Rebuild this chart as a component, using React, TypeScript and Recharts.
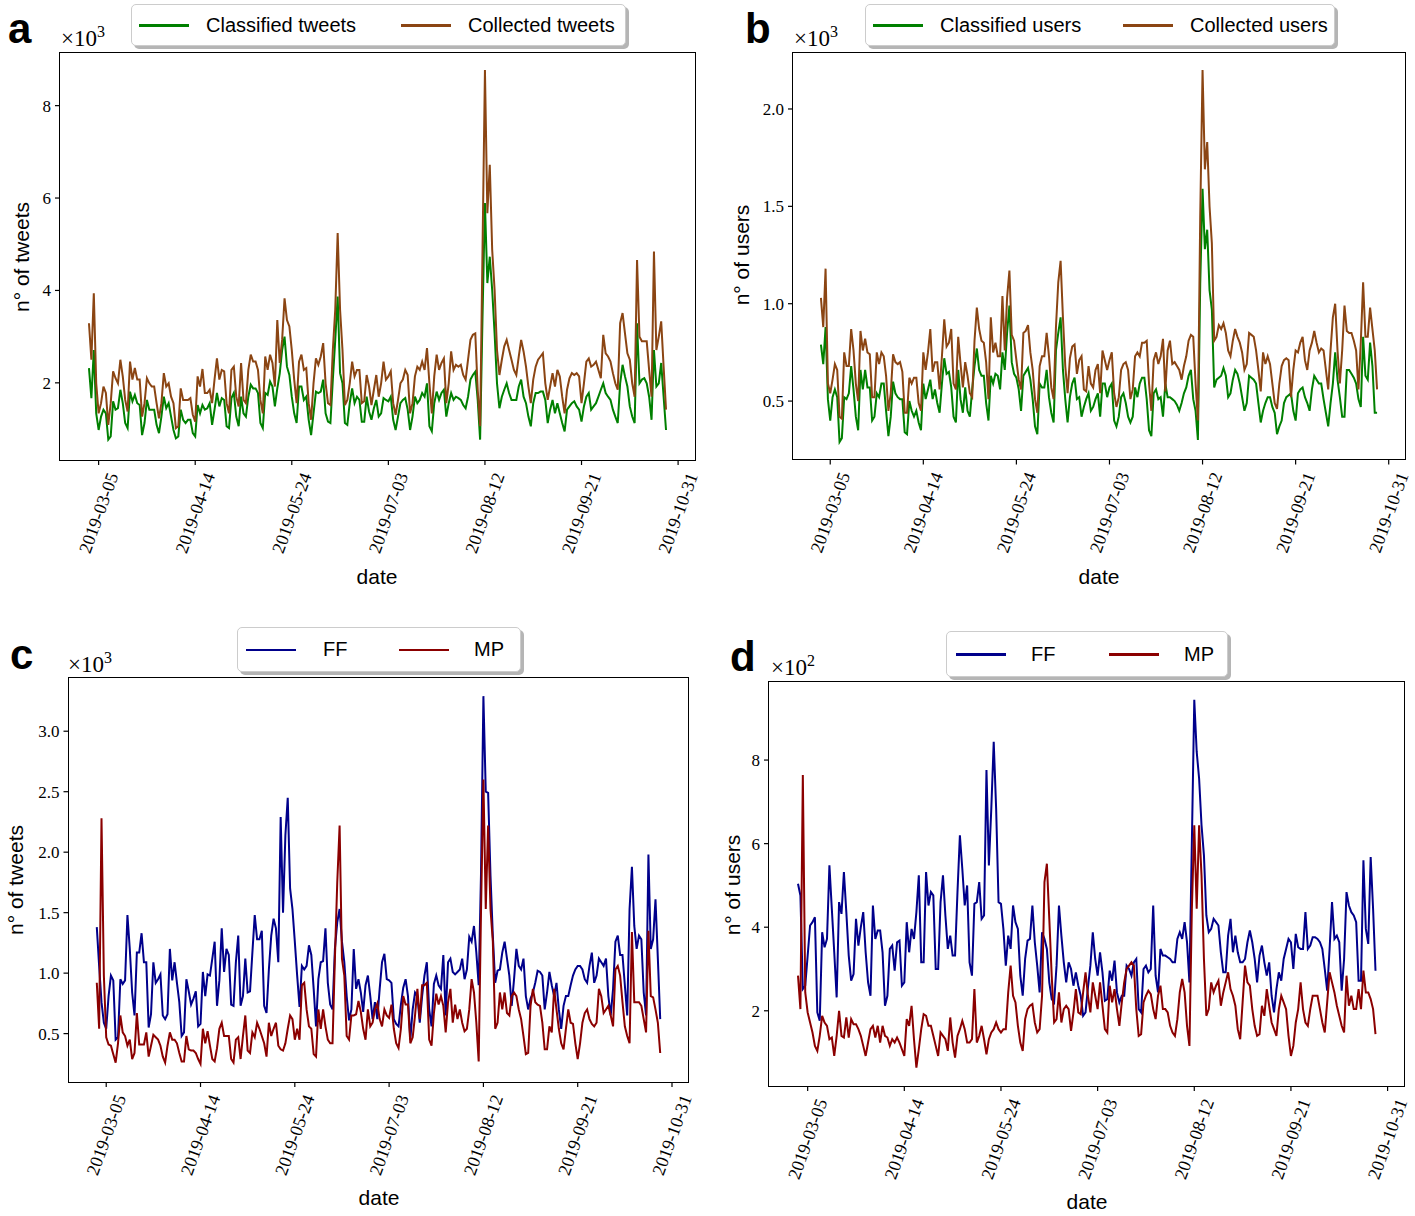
import React from "react";
import { LineChart, Line, XAxis, YAxis } from "recharts";

// daily counts, 2019-03-01 .. 2019-10-26 (index 0 = 2019-03-01)
const dateTicks = [4, 44, 84, 124, 164, 204, 244];
const dateLabels = ["2019-03-05", "2019-04-14", "2019-05-24", "2019-07-03", "2019-08-12", "2019-09-21", "2019-10-31"];

// panel a, x10^3
const classifiedTweets = [
  2.32, 1.67, 2.71, 1.34, 0.98, 1.27, 1.42, 1.34, 0.77, 0.84,
  1.60, 1.42, 1.45, 1.85, 1.56, 1.13, 1.02, 1.81, 1.60, 1.74,
  1.56, 1.52, 0.87, 1.13, 1.63, 1.42, 1.42, 1.42, 1.09, 0.91,
  1.27, 1.70, 1.45, 1.56, 1.27, 0.98, 0.80, 0.84, 1.42, 1.20,
  1.13, 1.20, 1.20, 0.91, 0.84, 1.52, 1.34, 1.52, 1.42, 1.45,
  1.56, 1.09, 1.42, 1.78, 1.49, 1.67, 1.63, 1.06, 1.02, 1.67,
  1.78, 1.27, 1.06, 1.70, 1.34, 1.27, 1.70, 1.96, 1.88, 1.88,
  1.78, 1.13, 1.02, 1.78, 1.74, 2.03, 1.92, 1.49, 1.88, 2.20,
  2.71, 3.00, 2.35, 2.17, 1.70, 1.34, 1.13, 1.92, 1.92, 1.63,
  1.70, 1.20, 0.87, 1.34, 1.81, 1.78, 1.81, 2.07, 1.34, 1.16,
  1.13, 2.07, 2.93, 3.87, 2.21, 1.99, 1.13, 1.09, 1.56, 1.88,
  1.56, 1.70, 1.63, 1.16, 1.16, 1.70, 1.38, 1.20, 1.45, 1.63,
  1.27, 1.34, 1.67, 1.63, 1.60, 1.70, 1.20, 0.98, 1.27, 1.56,
  1.63, 1.67, 1.42, 0.98, 1.27, 1.70, 1.56, 1.63, 1.78, 1.70,
  1.99, 1.06, 0.95, 1.56, 1.81, 1.63, 1.78, 1.85, 1.27, 1.56,
  1.78, 1.63, 1.70, 1.67, 1.63, 1.52, 1.45, 1.70, 2.07, 2.17,
  2.24, 1.63, 0.77, 3.44, 5.89, 4.16, 4.73, 4.01, 3.07, 1.99,
  1.45, 1.70, 1.85, 1.99, 1.78, 1.63, 1.63, 1.63, 1.92, 2.07,
  1.70, 1.56, 1.27, 1.06, 1.56, 1.78, 1.78, 1.81, 1.81, 1.63,
  1.13, 1.42, 1.63, 1.34, 1.56, 1.34, 1.13, 0.95, 1.42, 1.49,
  1.56, 1.60, 1.49, 1.42, 1.16, 1.49, 1.70, 1.78, 1.42, 1.49,
  1.56, 1.70, 1.85, 1.99, 1.78, 1.70, 1.63, 1.42, 1.27, 1.13,
  1.99, 2.39, 2.14, 1.92, 1.49, 1.27, 1.13, 3.29, 1.99, 2.07,
  2.10, 1.99, 1.70, 1.20, 2.71, 1.92, 1.99, 2.43, 1.70, 0.98,
];
const collectedTweets = [
  3.29, 2.50, 3.94, 1.99, 1.34, 1.56, 1.92, 1.78, 1.09, 1.56,
  2.25, 2.10, 1.99, 2.50, 2.14, 1.63, 1.38, 2.46, 2.07, 2.32,
  2.07, 2.07, 1.27, 1.56, 2.10, 1.99, 1.92, 1.92, 1.56, 1.23,
  1.56, 2.21, 1.92, 1.99, 1.70, 1.56, 1.02, 1.06, 1.88, 1.63,
  1.63, 1.63, 1.67, 1.31, 1.16, 2.14, 1.92, 2.30, 1.78, 1.78,
  1.85, 1.56, 2.07, 2.53, 2.07, 2.28, 2.25, 1.56, 1.34, 2.28,
  2.35, 1.70, 1.49, 2.43, 1.63, 1.56, 2.28, 2.61, 2.46, 2.46,
  2.28, 1.63, 1.34, 2.57, 2.28, 2.61, 2.43, 1.92, 3.36, 2.43,
  2.93, 3.83, 3.36, 3.22, 2.71, 2.07, 1.56, 2.46, 2.61, 2.28,
  2.32, 1.56, 1.20, 1.99, 2.53, 2.39, 2.57, 2.86, 1.99, 1.56,
  1.52, 2.71, 3.58, 5.24, 3.58, 2.71, 1.52, 1.63, 1.99, 2.46,
  2.14, 2.28, 2.28, 1.56, 1.60, 2.17, 1.92, 1.52, 1.85, 2.17,
  1.70, 1.99, 2.46, 2.07, 2.14, 2.25, 1.56, 1.31, 1.63, 1.99,
  2.07, 2.28, 2.17, 1.34, 1.56, 2.14, 2.35, 2.28, 2.46, 2.28,
  2.75, 1.99, 1.34, 2.14, 2.61, 2.28, 2.43, 2.53, 1.56, 1.99,
  2.68, 2.28, 2.39, 2.35, 2.39, 2.17, 2.07, 2.50, 2.93, 3.04,
  3.07, 1.85, 1.06, 4.90, 8.77, 5.67, 6.72, 4.88, 4.01, 2.71,
  2.17, 2.50, 2.79, 2.93, 2.71, 2.50, 2.28, 2.17, 2.57, 2.93,
  2.68, 2.35, 1.92, 1.56, 2.07, 2.35, 2.50, 2.57, 2.64, 1.99,
  1.63, 1.92, 2.21, 1.92, 2.28, 2.14, 1.70, 1.34, 1.85, 2.10,
  2.21, 2.17, 2.21, 2.14, 1.56, 1.99, 2.46, 2.53, 2.35, 2.39,
  2.46, 2.28, 2.10, 3.04, 2.64, 2.57, 2.46, 2.21, 1.99, 1.85,
  3.29, 3.51, 3.07, 2.64, 2.50, 1.99, 1.70, 4.66, 3.00, 2.90,
  2.90, 2.90, 2.28, 1.70, 4.84, 2.71, 3.00, 3.33, 2.35, 1.42,
];

// panel b, x10^3
const classifiedUsers = [
  0.79, 0.69, 0.88, 0.51, 0.40, 0.52, 0.56, 0.52, 0.29, 0.31,
  0.52, 0.51, 0.54, 0.68, 0.56, 0.42, 0.35, 0.66, 0.56, 0.66,
  0.57, 0.57, 0.40, 0.42, 0.54, 0.52, 0.59, 0.59, 0.45, 0.32,
  0.42, 0.60, 0.54, 0.52, 0.51, 0.51, 0.34, 0.33, 0.50, 0.45,
  0.42, 0.45, 0.39, 0.35, 0.59, 0.51, 0.56, 0.61, 0.51, 0.56,
  0.49, 0.44, 0.59, 0.72, 0.64, 0.65, 0.57, 0.42, 0.39, 0.66,
  0.51, 0.44, 0.57, 0.45, 0.42, 0.56, 0.68, 0.77, 0.66, 0.63,
  0.63, 0.49, 0.40, 0.63, 0.59, 0.64, 0.63, 0.56, 0.75, 0.66,
  0.85, 0.99, 0.70, 0.64, 0.62, 0.56, 0.45, 0.63, 0.65, 0.67,
  0.61, 0.51, 0.37, 0.33, 0.59, 0.57, 0.57, 0.66, 0.52, 0.44,
  0.39, 0.76, 0.85, 0.93, 0.66, 0.51, 0.39, 0.52, 0.59, 0.62,
  0.51, 0.52, 0.42, 0.47, 0.51, 0.54, 0.45, 0.47, 0.51, 0.54,
  0.42, 0.59, 0.59, 0.52, 0.57, 0.59, 0.40, 0.37, 0.42, 0.52,
  0.54, 0.49, 0.42, 0.39, 0.42, 0.57, 0.52, 0.59, 0.62, 0.62,
  0.51, 0.35, 0.32, 0.54, 0.56, 0.51, 0.52, 0.42, 0.59, 0.52,
  0.52, 0.51, 0.50, 0.48, 0.45, 0.49, 0.54, 0.57, 0.63, 0.66,
  0.51, 0.45, 0.30, 1.10, 1.59, 1.28, 1.38, 1.07, 0.97, 0.57,
  0.61, 0.62, 0.63, 0.67, 0.63, 0.52, 0.54, 0.61, 0.66, 0.64,
  0.59, 0.52, 0.45, 0.49, 0.63, 0.62, 0.61, 0.59, 0.49, 0.39,
  0.45, 0.49, 0.52, 0.52, 0.47, 0.44, 0.33, 0.37, 0.40, 0.49,
  0.52, 0.53, 0.54, 0.45, 0.40, 0.54, 0.56, 0.57, 0.52, 0.49,
  0.45, 0.56, 0.63, 0.61, 0.59, 0.59, 0.51, 0.44, 0.37, 0.49,
  0.59, 0.75, 0.61, 0.52, 0.42, 0.42, 0.66, 0.66, 0.64, 0.62,
  0.59, 0.51, 0.47, 0.83, 0.63, 0.61, 0.80, 0.68, 0.44, 0.44,
];
const collectedUsers = [
  1.03, 0.88, 1.18, 0.59, 0.54, 0.61, 0.69, 0.66, 0.42, 0.41,
  0.75, 0.68, 0.68, 0.87, 0.76, 0.59, 0.50, 0.86, 0.76, 0.82,
  0.75, 0.74, 0.52, 0.52, 0.75, 0.69, 0.75, 0.73, 0.63, 0.45,
  0.54, 0.74, 0.70, 0.69, 0.70, 0.65, 0.44, 0.44, 0.62, 0.59,
  0.62, 0.62, 0.49, 0.45, 0.75, 0.66, 0.75, 0.87, 0.65, 0.70,
  0.70, 0.56, 0.73, 0.92, 0.78, 0.80, 0.87, 0.59, 0.56, 0.83,
  0.69, 0.57, 0.70, 0.63, 0.54, 0.52, 0.81, 0.98, 0.87, 0.81,
  0.80, 0.70, 0.51, 0.93, 0.75, 0.80, 0.73, 0.73, 1.04, 0.76,
  1.03, 1.17, 0.84, 0.81, 0.71, 0.61, 0.56, 0.85, 0.86, 0.89,
  0.75, 0.66, 0.51, 0.44, 0.68, 0.73, 0.73, 0.85, 0.73, 0.57,
  0.51, 0.88, 1.11, 1.22, 0.93, 0.68, 0.54, 0.72, 0.78, 0.79,
  0.64, 0.71, 0.73, 0.56, 0.55, 0.68, 0.59, 0.57, 0.66, 0.69,
  0.54, 0.76, 0.71, 0.66, 0.71, 0.75, 0.54, 0.47, 0.52, 0.66,
  0.69, 0.70, 0.66, 0.51, 0.56, 0.73, 0.75, 0.73, 0.80, 0.80,
  0.81, 0.59, 0.45, 0.71, 0.75, 0.69, 0.73, 0.82, 0.55, 0.76,
  0.81, 0.69, 0.70, 0.68, 0.66, 0.61, 0.68, 0.73, 0.81, 0.84,
  0.83, 0.59, 0.40, 1.45, 2.20, 1.69, 1.83, 1.50, 1.31, 0.81,
  0.83, 0.89, 0.87, 0.90, 0.85, 0.76, 0.73, 0.81, 0.87, 0.83,
  0.80, 0.75, 0.66, 0.69, 0.85, 0.84, 0.83, 0.76, 0.66, 0.55,
  0.75, 0.69, 0.73, 0.69, 0.59, 0.49, 0.46, 0.59, 0.68, 0.71,
  0.72, 0.71, 0.52, 0.66, 0.76, 0.75, 0.80, 0.83, 0.71, 0.66,
  0.76, 0.80, 0.86, 0.80, 0.75, 0.77, 0.76, 0.66, 0.56, 0.76,
  0.93, 1.00, 0.76, 0.59, 0.76, 0.99, 0.86, 0.85, 0.85, 0.81,
  0.76, 0.56, 0.80, 1.11, 0.83, 0.83, 0.98, 0.87, 0.76, 0.56,
];

// panel c, x10^3
const ffTweets = [
  1.38, 1.06, 0.76, 0.59, 0.54, 0.81, 0.98, 0.94, 0.45, 0.47,
  0.95, 0.91, 0.94, 1.48, 1.20, 0.84, 0.65, 1.17, 1.17, 1.33,
  1.09, 1.09, 0.55, 0.66, 1.09, 0.92, 0.95, 0.99, 0.65, 0.62,
  0.66, 1.20, 0.94, 1.09, 0.92, 0.76, 0.48, 0.51, 0.95, 0.85,
  0.74, 0.79, 0.85, 0.56, 0.58, 1.01, 0.81, 0.99, 0.98, 1.12,
  1.26, 0.73, 0.94, 1.37, 1.01, 1.20, 1.15, 0.74, 0.73, 1.09,
  1.31, 0.73, 0.81, 1.12, 0.84, 0.85, 1.17, 1.48, 1.28, 1.28,
  1.35, 0.73, 0.67, 1.03, 1.31, 1.45, 1.37, 1.09, 2.29, 1.50,
  2.14, 2.45, 1.70, 1.53, 1.26, 0.98, 0.72, 1.06, 1.03, 1.06,
  1.23, 1.15, 0.87, 0.56, 0.95, 1.09, 1.10, 1.37, 0.92, 0.74,
  0.70, 1.20, 1.42, 1.53, 1.26, 1.09, 0.81, 0.61, 0.70, 1.20,
  0.87, 0.95, 0.84, 0.68, 0.90, 0.98, 0.81, 0.62, 0.76, 0.62,
  0.87, 1.09, 1.16, 0.95, 0.94, 0.92, 0.62, 0.58, 0.56, 0.74,
  0.88, 0.95, 0.81, 0.45, 0.70, 0.84, 0.81, 0.59, 0.81, 0.98,
  1.09, 0.70, 0.56, 0.91, 0.98, 0.90, 0.87, 1.15, 0.65, 1.09,
  1.12, 1.01, 0.99, 1.01, 1.03, 1.12, 0.95, 1.03, 1.30, 1.26,
  1.39, 1.17, 0.90, 1.84, 3.29, 2.50, 2.49, 1.81, 1.31, 0.92,
  1.02, 1.03, 1.17, 1.26, 1.12, 0.98, 0.73, 0.95, 1.20, 1.06,
  1.03, 1.12, 0.81, 0.70, 0.79, 0.84, 0.92, 1.02, 1.01, 0.98,
  0.70, 0.84, 1.01, 0.90, 0.81, 0.92, 0.70, 0.54, 0.73, 0.81,
  0.81, 0.90, 0.98, 1.03, 1.06, 1.06, 1.03, 0.95, 0.92, 1.06,
  1.17, 0.92, 0.98, 1.12, 1.09, 1.06, 1.12, 0.81, 0.65, 0.87,
  1.26, 1.31, 1.15, 1.15, 0.90, 0.65, 1.53, 1.88, 1.39, 1.20,
  1.31, 1.28, 0.84, 0.65, 1.98, 1.20, 1.28, 1.61, 1.12, 0.62,
];
const mpTweets = [
  0.92, 0.54, 2.28, 0.98, 0.47, 0.41, 0.40, 0.33, 0.26, 0.42,
  0.65, 0.51, 0.48, 0.40, 0.45, 0.29, 0.34, 0.67, 0.41, 0.41,
  0.41, 0.51, 0.31, 0.40, 0.49, 0.47, 0.45, 0.40, 0.31, 0.26,
  0.40, 0.51, 0.45, 0.45, 0.42, 0.34, 0.27, 0.27, 0.48, 0.37,
  0.36, 0.36, 0.34, 0.29, 0.25, 0.54, 0.42, 0.52, 0.40, 0.29,
  0.27, 0.38, 0.54, 0.59, 0.48, 0.48, 0.48, 0.29, 0.26, 0.45,
  0.47, 0.29, 0.48, 0.65, 0.36, 0.34, 0.51, 0.47, 0.59, 0.54,
  0.48, 0.42, 0.31, 0.59, 0.48, 0.54, 0.59, 0.40, 0.37, 0.36,
  0.42, 0.54, 0.65, 0.62, 0.45, 0.54, 0.45, 0.90, 0.92, 0.70,
  0.56, 0.54, 0.33, 0.31, 0.70, 0.54, 0.70, 0.56, 0.45, 0.42,
  0.42, 1.12, 1.75, 2.22, 1.12, 0.98, 0.48, 0.45, 0.65, 0.65,
  0.66, 0.77, 0.68, 0.54, 0.45, 0.70, 0.56, 0.59, 0.70, 0.75,
  0.62, 0.56, 0.70, 0.65, 0.63, 0.74, 0.54, 0.42, 0.38, 0.54,
  0.81, 0.74, 0.74, 0.42, 0.47, 0.65, 0.87, 0.62, 0.90, 0.90,
  0.92, 0.45, 0.40, 0.67, 0.83, 0.74, 0.81, 0.73, 0.51, 0.76,
  0.87, 0.59, 0.74, 0.62, 0.70, 0.59, 0.52, 0.54, 0.70, 0.95,
  0.84, 0.59, 0.27, 1.53, 2.60, 1.53, 2.22, 1.53, 1.26, 0.54,
  0.59, 0.84, 0.70, 0.84, 0.67, 0.65, 0.81, 0.84, 0.81, 0.70,
  0.62, 0.48, 0.33, 0.34, 0.73, 0.87, 0.76, 0.74, 0.73, 0.59,
  0.37, 0.37, 0.56, 0.51, 0.87, 0.70, 0.54, 0.42, 0.37, 0.54,
  0.70, 0.59, 0.58, 0.42, 0.29, 0.42, 0.59, 0.67, 0.70, 0.62,
  0.58, 0.56, 0.59, 0.87, 0.81, 0.67, 0.70, 0.73, 0.65, 0.56,
  1.03, 1.06, 0.98, 0.76, 0.56, 0.48, 0.42, 1.34, 0.76, 0.76,
  0.76, 0.73, 0.62, 0.51, 1.35, 0.81, 0.80, 0.70, 0.59, 0.34,
];

// panel d, x10^2
const ffUsers = [
  5.04, 4.76, 2.52, 2.60, 3.32, 4.04, 4.12, 4.24, 1.96, 1.76,
  3.88, 3.52, 3.72, 5.48, 4.44, 3.40, 2.32, 4.60, 4.32, 5.32,
  4.36, 3.32, 2.72, 2.88, 4.20, 3.56, 4.00, 4.36, 3.40, 2.68,
  2.36, 4.52, 3.72, 3.92, 3.92, 3.40, 2.12, 2.36, 3.48, 3.56,
  2.96, 3.64, 3.68, 2.60, 2.68, 4.12, 3.40, 3.96, 3.72, 4.36,
  5.24, 3.16, 3.16, 5.32, 4.52, 4.84, 4.76, 3.00, 3.00, 4.60,
  5.24, 4.28, 3.48, 3.80, 3.32, 3.32, 4.84, 6.20, 5.40, 4.52,
  5.00, 3.16, 2.84, 4.56, 4.60, 5.08, 4.20, 4.28, 7.76, 5.48,
  6.84, 8.44, 6.84, 4.60, 4.56, 3.96, 3.08, 3.80, 3.48, 4.52,
  4.12, 3.96, 2.84, 2.36, 3.24, 3.68, 3.72, 4.52, 3.64, 3.08,
  2.44, 3.88, 3.72, 3.48, 2.68, 2.28, 2.20, 3.08, 4.52, 3.80,
  3.16, 2.68, 3.16, 3.00, 2.60, 2.92, 2.60, 2.36, 1.88, 1.96,
  2.56, 3.08, 3.88, 3.24, 2.84, 3.40, 2.92, 2.24, 2.28, 2.96,
  2.72, 3.20, 2.44, 2.20, 2.36, 2.36, 3.08, 3.00, 2.84, 3.16,
  3.24, 2.04, 1.96, 3.00, 3.08, 2.92, 3.00, 4.52, 2.84, 2.44,
  3.48, 3.32, 3.32, 3.28, 3.24, 3.16, 3.16, 3.72, 3.88, 3.72,
  4.12, 3.64, 2.68, 6.04, 9.44, 8.20, 7.56, 6.44, 5.72, 4.28,
  3.88, 3.96, 4.20, 4.12, 4.04, 3.40, 2.92, 2.92, 3.80, 4.20,
  3.40, 3.80, 3.40, 3.16, 3.16, 3.24, 3.64, 3.92, 3.64, 3.24,
  2.68, 3.32, 3.56, 3.16, 2.84, 3.16, 2.36, 1.96, 2.52, 2.92,
  2.72, 3.24, 3.48, 3.72, 3.64, 3.00, 3.84, 3.52, 3.48, 3.48,
  4.36, 3.48, 3.56, 3.76, 3.76, 3.72, 3.64, 3.48, 3.00, 2.48,
  3.48, 4.60, 3.72, 3.80, 3.64, 2.48, 3.24, 4.84, 4.52, 4.36,
  4.28, 4.12, 2.72, 2.72, 5.60, 3.96, 3.60, 5.68, 4.44, 2.96,
];
const mpUsers = [
  2.84, 2.04, 7.64, 2.44, 1.96, 1.72, 1.48, 1.16, 1.04, 1.40,
  1.88, 1.72, 1.64, 1.32, 1.36, 0.92, 1.40, 2.00, 1.40, 1.36,
  1.84, 1.36, 1.80, 1.68, 1.68, 1.56, 1.40, 1.16, 0.92, 1.24,
  1.56, 1.64, 1.36, 1.64, 1.24, 1.64, 1.40, 1.36, 1.16, 1.32,
  1.24, 1.36, 1.24, 1.08, 0.92, 1.80, 1.64, 2.12, 1.32, 0.64,
  1.08, 1.56, 1.92, 1.88, 1.64, 1.64, 1.40, 1.16, 0.92, 1.48,
  1.40, 1.32, 1.04, 1.84, 1.24, 0.88, 1.40, 1.56, 1.76, 1.56,
  1.24, 1.24, 1.32, 2.52, 1.24, 1.40, 1.64, 1.32, 0.96, 1.32,
  1.48, 1.56, 1.72, 1.56, 1.48, 1.56, 1.56, 2.44, 3.08, 2.36,
  2.20, 1.64, 1.24, 1.04, 1.80, 2.04, 2.12, 2.16, 1.72, 1.48,
  1.56, 2.36, 5.08, 5.52, 4.20, 2.84, 1.72, 1.80, 2.44, 1.72,
  2.04, 2.12, 2.04, 1.52, 1.96, 2.52, 1.96, 1.92, 2.44, 2.92,
  2.36, 1.96, 2.68, 2.36, 2.04, 2.68, 2.12, 1.56, 1.48, 2.60,
  2.20, 2.52, 2.04, 1.64, 2.20, 2.68, 3.00, 3.08, 3.16, 3.08,
  2.04, 1.40, 1.44, 2.20, 2.36, 2.48, 2.40, 2.04, 1.80, 2.36,
  2.60, 2.04, 2.04, 1.96, 1.64, 1.48, 1.40, 1.80, 2.44, 2.76,
  2.44, 1.64, 1.16, 4.44, 6.44, 4.44, 6.44, 5.24, 3.24, 1.88,
  2.04, 2.68, 2.44, 2.60, 2.72, 2.12, 2.44, 2.68, 2.92, 2.52,
  2.36, 2.12, 1.56, 1.32, 2.20, 3.08, 2.68, 2.60, 2.04, 1.64,
  1.40, 1.44, 2.12, 1.88, 2.52, 2.12, 1.72, 1.56, 1.40, 2.04,
  2.36, 2.20, 2.04, 1.40, 0.92, 1.16, 1.72, 2.04, 2.68, 2.04,
  1.72, 1.64, 2.04, 2.36, 2.36, 2.36, 2.04, 1.72, 1.48, 2.20,
  2.92, 2.68, 2.44, 2.12, 1.88, 1.64, 1.48, 2.84, 2.12, 2.36,
  2.04, 2.04, 2.52, 2.04, 2.96, 2.44, 2.44, 2.28, 2.04, 1.44,
];

const rows = classifiedTweets.map((v, i) => ({
  day: i,
  classifiedTweets: v,
  collectedTweets: collectedTweets[i],
  classifiedUsers: classifiedUsers[i],
  collectedUsers: collectedUsers[i],
  ffTweets: ffTweets[i],
  mpTweets: mpTweets[i],
  ffUsers: ffUsers[i],
  mpUsers: mpUsers[i],
}));

const serif = '"Liberation Serif", "DejaVu Serif", serif';
const sans = '"Liberation Sans", Arial, sans-serif';

function DateTick(props: any) {
  const { x, y, payload } = props;
  const cy = y + 48;
  const label = dateLabels[dateTicks.indexOf(payload.value)];
  return (
    <text x={x} y={cy} transform={`rotate(-70 ${x} ${cy})`} textAnchor="middle"
      dominantBaseline="central" fontFamily={serif} fontSize={18} fill="#000">
      {label}
    </text>
  );
}

type Series = { key: string; name: string; color: string };
type PanelProps = {
  box: { x: number; y: number; w: number; h: number };
  plot: { l: number; t: number; r: number; b: number };
  yDomain: [number, number];
  yTicks: number[];
  decimals: number;
  series: Series[];
  letter: string;
  letterPos: [number, number];
  exp: string;
  expPos: [number, number];
  yLabel: string;
  yLabelPos: [number, number];
  dateLabelPos: [number, number];
  legend: { l: number; t: number; w: number; h: number; line: number[]; text: number[] };
};

function Panel(p: PanelProps) {
  const { box, plot } = p;
  const yAxisWidth = plot.l - box.x;
  const xAxisHeight = 100;
  return (
    <>
      <div style={{ position: "absolute", left: box.x, top: box.y }}>
        <LineChart width={box.w} height={box.h} data={rows}
          margin={{ top: plot.t - box.y, right: box.x + box.w - plot.r, left: 0, bottom: box.y + box.h - plot.b - xAxisHeight }}>
          <XAxis dataKey="day" type="number" domain={[-12, 251]} allowDataOverflow ticks={dateTicks}
            interval={0} tick={<DateTick />} height={xAxisHeight} tickSize={5} tickMargin={0}
            axisLine={false} tickLine={{ stroke: "#000", strokeWidth: 1.2 }} />
          <YAxis type="number" domain={p.yDomain} allowDataOverflow ticks={p.yTicks} width={yAxisWidth}
            tickSize={5} tickMargin={4} axisLine={false} tickLine={{ stroke: "#000", strokeWidth: 1.2 }}
            tickFormatter={(v: number) => v.toFixed(p.decimals)}
            tick={{ fontFamily: serif, fontSize: 17, fill: "#000" }} />
          {p.series.map((s) => (
            <Line key={s.key} type="linear" dataKey={s.key} name={s.name} stroke={s.color}
              strokeWidth={2} dot={false} isAnimationActive={false} />
          ))}
        </LineChart>
      </div>
      <div style={{ position: "absolute", left: plot.l - 0.75, top: plot.t - 0.75, width: plot.r - plot.l + 1.5,
        height: plot.b - plot.t + 1.5, border: "1.5px solid #000", boxSizing: "border-box", pointerEvents: "none" }} />
      <div style={{ position: "absolute", left: p.letterPos[0], top: p.letterPos[1], fontFamily: sans,
        fontWeight: 700, fontSize: 42, lineHeight: "42px" }}>{p.letter}</div>
      <div style={{ position: "absolute", left: p.expPos[0], top: p.expPos[1], fontFamily: serif,
        fontSize: 23, lineHeight: "23px", whiteSpace: "nowrap" }}>
        ×10<sup style={{ fontSize: 16, verticalAlign: 0, position: "relative", top: -9 }}>{p.exp}</sup>
      </div>
      <div style={{ position: "absolute", left: p.yLabelPos[0], top: p.yLabelPos[1], transform: "translate(-50%, -50%) rotate(-90deg)",
        fontFamily: sans, fontSize: 21, whiteSpace: "nowrap" }}>{p.yLabel}</div>
      <div style={{ position: "absolute", left: p.dateLabelPos[0], top: p.dateLabelPos[1], transform: "translate(-50%, -50%)",
        fontFamily: sans, fontSize: 21, whiteSpace: "nowrap" }}>date</div>
      <div style={{ position: "absolute", left: p.legend.l, top: p.legend.t, width: p.legend.w, height: p.legend.h,
        border: "1px solid #cccccc", borderRadius: 5, background: "#fff", boxShadow: "3px 3px 0 #b5b5b5", boxSizing: "border-box" }}>
        {p.series.map((s, i) => (
          <React.Fragment key={s.key}>
            <div style={{ position: "absolute", left: p.legend.line[i], top: p.legend.h / 2 - 2, width: 50, height: 2.5, background: s.color }} />
            <div style={{ position: "absolute", left: p.legend.text[i], top: 0, height: p.legend.h - 2, display: "flex",
              alignItems: "center", fontFamily: sans, fontSize: 20, whiteSpace: "nowrap" }}>{s.name}</div>
          </React.Fragment>
        ))}
      </div>
    </>
  );
}

export default function App() {
  return (
    <div style={{ position: "absolute", left: 0, top: 0, width: 1415, height: 1216, background: "#fff", overflow: "hidden" }}>
      <Panel box={{ x: 0, y: 0, w: 715, h: 600 }} plot={{ l: 60, t: 52.5, r: 695, b: 460 }}
        yDomain={[0.33, 9.15]} yTicks={[2, 4, 6, 8]} decimals={0}
        series={[{ key: "classifiedTweets", name: "Classified tweets", color: "#008000" },
          { key: "collectedTweets", name: "Collected tweets", color: "#8b4513" }]}
        letter="a" letterPos={[8, 8]} exp="3" expPos={[61, 27]}
        yLabel="n° of tweets" yLabelPos={[22, 257]} dateLabelPos={[377, 577]}
        legend={{ l: 131, t: 4, w: 495, h: 42, line: [7, 269], text: [74, 336] }} />
      <Panel box={{ x: 715, y: 0, w: 700, h: 600 }} plot={{ l: 793, t: 52.5, r: 1405, b: 459.5 }}
        yDomain={[0.2, 2.29]} yTicks={[0.5, 1.0, 1.5, 2.0]} decimals={1}
        series={[{ key: "classifiedUsers", name: "Classified users", color: "#008000" },
          { key: "collectedUsers", name: "Collected users", color: "#8b4513" }]}
        letter="b" letterPos={[745, 8]} exp="3" expPos={[794, 27]}
        yLabel="n° of users" yLabelPos={[742, 255]} dateLabelPos={[1099, 577]}
        legend={{ l: 865, t: 4, w: 470, h: 42, line: [7, 257], text: [74, 324] }} />
      <Panel box={{ x: 0, y: 615, w: 710, h: 601 }} plot={{ l: 68.5, t: 678, r: 688.5, b: 1082 }}
        yDomain={[0.1, 3.44]} yTicks={[0.5, 1.0, 1.5, 2.0, 2.5, 3.0]} decimals={1}
        series={[{ key: "ffTweets", name: "FF", color: "#00008b" },
          { key: "mpTweets", name: "MP", color: "#8b0000" }]}
        letter="c" letterPos={[10, 634]} exp="3" expPos={[68, 653]}
        yLabel="n° of tweets" yLabelPos={[16, 880]} dateLabelPos={[379, 1198]}
        legend={{ l: 237, t: 627, w: 284, h: 45, line: [8, 161], text: [85, 236] }} />
      <Panel box={{ x: 710, y: 615, w: 705, h: 601 }} plot={{ l: 769, t: 681.5, r: 1404.5, b: 1086 }}
        yDomain={[0.2, 9.88]} yTicks={[2, 4, 6, 8]} decimals={0}
        series={[{ key: "ffUsers", name: "FF", color: "#00008b" },
          { key: "mpUsers", name: "MP", color: "#8b0000" }]}
        letter="d" letterPos={[730, 636]} exp="2" expPos={[771, 656]}
        yLabel="n° of users" yLabelPos={[733, 885]} dateLabelPos={[1087, 1202]}
        legend={{ l: 946, t: 631, w: 282, h: 46, line: [9, 162], text: [84, 237] }} />
    </div>
  );
}
